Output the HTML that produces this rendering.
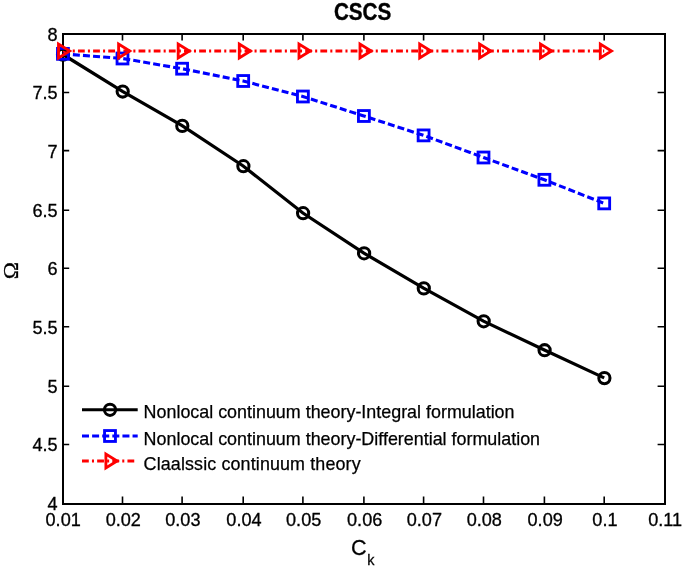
<!DOCTYPE html>
<html><head><meta charset="utf-8"><title>CSCS</title>
<style>
html,body{margin:0;padding:0;background:#fff;}
svg{display:block;will-change:transform;}
text{font-family:"Liberation Sans",sans-serif;fill:#000;}
.tk{font-size:17.5px;stroke:#000;stroke-width:0.3px;}
.lg{font-size:17.9px;stroke:#000;stroke-width:0.25px;}
</style></head><body>
<svg width="685" height="570" viewBox="0 0 685 570">
<rect x="0" y="0" width="685" height="570" fill="#fff"/>
<path d="M122.50 503.5V496.4M122.50 34.5V40.5M182.10 503.5V496.4M182.10 34.5V40.5M243.20 503.5V496.4M243.20 34.5V40.5M302.90 503.5V496.4M302.90 34.5V40.5M363.90 503.5V496.4M363.90 34.5V40.5M423.60 503.5V496.4M423.60 34.5V40.5M483.50 503.5V496.4M483.50 34.5V40.5M544.40 503.5V496.4M544.40 34.5V40.5M604.20 503.5V496.4M604.20 34.5V40.5M63.5 444.50H69.2M664.5 444.50H657.6M63.5 386.30H69.2M664.5 386.30H657.6M63.5 326.80H69.2M664.5 326.80H657.6M63.5 268.30H69.2M664.5 268.30H657.6M63.5 210.30H69.2M664.5 210.30H657.6M63.5 150.60H69.2M664.5 150.60H657.6M63.5 92.50H69.2M664.5 92.50H657.6" stroke="#000" stroke-width="1.6" fill="none"/>
<rect x="63" y="34" width="602" height="470" fill="none" stroke="#000" stroke-width="2"/>
<polyline points="62.90,54.50 122.50,91.30 182.10,125.70 243.20,166.00 302.90,213.00 363.90,253.10 423.60,288.20 483.50,321.10 544.40,350.00 604.20,377.90" fill="none" stroke="#000" stroke-width="3.25"/>
<polyline points="62.90,53.85 122.50,58.50 182.10,68.70 243.20,81.00 302.90,96.50 363.90,116.00 423.60,135.40 483.50,157.50 544.40,179.80 604.20,203.40" fill="none" stroke="#00f" stroke-width="3.1" stroke-dasharray="7 3.11" stroke-dashoffset="0.1"/>
<polyline points="62.40,51.00 122.50,51.00 182.10,51.00 243.20,51.00 302.90,51.00 363.90,51.00 423.60,51.00 483.50,51.00 544.40,51.00 604.20,51.00" fill="none" stroke="#f00" stroke-width="2.85" stroke-dasharray="6.8 3.15 2.05 3.15" stroke-dashoffset="-0.4"/>
<circle cx="63.00" cy="54.70" r="5.6" fill="none" stroke="#000" stroke-width="3.05"/>
<circle cx="122.70" cy="91.50" r="5.6" fill="none" stroke="#000" stroke-width="3.05"/>
<circle cx="182.30" cy="125.90" r="5.6" fill="none" stroke="#000" stroke-width="3.05"/>
<circle cx="243.40" cy="166.20" r="5.6" fill="none" stroke="#000" stroke-width="3.05"/>
<circle cx="303.10" cy="213.20" r="5.6" fill="none" stroke="#000" stroke-width="3.05"/>
<circle cx="364.10" cy="253.30" r="5.6" fill="none" stroke="#000" stroke-width="3.05"/>
<circle cx="423.80" cy="288.40" r="5.6" fill="none" stroke="#000" stroke-width="3.05"/>
<circle cx="483.70" cy="321.30" r="5.6" fill="none" stroke="#000" stroke-width="3.05"/>
<circle cx="544.60" cy="350.20" r="5.6" fill="none" stroke="#000" stroke-width="3.05"/>
<circle cx="604.40" cy="378.10" r="5.6" fill="none" stroke="#000" stroke-width="3.05"/>
<rect x="57.50" y="48.40" width="10.9" height="10.9" fill="none" stroke="#00f" stroke-width="2.85"/>
<rect x="117.05" y="53.05" width="10.9" height="10.9" fill="none" stroke="#00f" stroke-width="2.85"/>
<rect x="176.65" y="63.25" width="10.9" height="10.9" fill="none" stroke="#00f" stroke-width="2.85"/>
<rect x="237.75" y="75.55" width="10.9" height="10.9" fill="none" stroke="#00f" stroke-width="2.85"/>
<rect x="297.45" y="91.05" width="10.9" height="10.9" fill="none" stroke="#00f" stroke-width="2.85"/>
<rect x="358.45" y="110.55" width="10.9" height="10.9" fill="none" stroke="#00f" stroke-width="2.85"/>
<rect x="418.15" y="129.95" width="10.9" height="10.9" fill="none" stroke="#00f" stroke-width="2.85"/>
<rect x="478.05" y="152.05" width="10.9" height="10.9" fill="none" stroke="#00f" stroke-width="2.85"/>
<rect x="538.95" y="174.35" width="10.9" height="10.9" fill="none" stroke="#00f" stroke-width="2.85"/>
<rect x="598.75" y="197.95" width="10.9" height="10.9" fill="none" stroke="#00f" stroke-width="2.85"/>
<path d="M58.50 44.00L58.50 58.00L69.70 51.00Z" fill="none" stroke="#f00" stroke-width="2.85" stroke-linejoin="miter" stroke-miterlimit="10"/>
<path d="M118.60 44.00L118.60 58.00L129.80 51.00Z" fill="none" stroke="#f00" stroke-width="2.85" stroke-linejoin="miter" stroke-miterlimit="10"/>
<path d="M178.20 44.00L178.20 58.00L189.40 51.00Z" fill="none" stroke="#f00" stroke-width="2.85" stroke-linejoin="miter" stroke-miterlimit="10"/>
<path d="M239.30 44.00L239.30 58.00L250.50 51.00Z" fill="none" stroke="#f00" stroke-width="2.85" stroke-linejoin="miter" stroke-miterlimit="10"/>
<path d="M299.00 44.00L299.00 58.00L310.20 51.00Z" fill="none" stroke="#f00" stroke-width="2.85" stroke-linejoin="miter" stroke-miterlimit="10"/>
<path d="M360.00 44.00L360.00 58.00L371.20 51.00Z" fill="none" stroke="#f00" stroke-width="2.85" stroke-linejoin="miter" stroke-miterlimit="10"/>
<path d="M419.70 44.00L419.70 58.00L430.90 51.00Z" fill="none" stroke="#f00" stroke-width="2.85" stroke-linejoin="miter" stroke-miterlimit="10"/>
<path d="M479.60 44.00L479.60 58.00L490.80 51.00Z" fill="none" stroke="#f00" stroke-width="2.85" stroke-linejoin="miter" stroke-miterlimit="10"/>
<path d="M540.50 44.00L540.50 58.00L551.70 51.00Z" fill="none" stroke="#f00" stroke-width="2.85" stroke-linejoin="miter" stroke-miterlimit="10"/>
<path d="M600.30 44.00L600.30 58.00L611.50 51.00Z" fill="none" stroke="#f00" stroke-width="2.85" stroke-linejoin="miter" stroke-miterlimit="10"/>
<text class="tk" transform="translate(63.15,526.4) scale(1.035,1)" text-anchor="middle">0.01</text>
<text class="tk" transform="translate(123.25,526.4) scale(1.035,1)" text-anchor="middle">0.02</text>
<text class="tk" transform="translate(182.85,526.4) scale(1.035,1)" text-anchor="middle">0.03</text>
<text class="tk" transform="translate(243.95,526.4) scale(1.035,1)" text-anchor="middle">0.04</text>
<text class="tk" transform="translate(303.65,526.4) scale(1.035,1)" text-anchor="middle">0.05</text>
<text class="tk" transform="translate(364.65,526.4) scale(1.035,1)" text-anchor="middle">0.06</text>
<text class="tk" transform="translate(424.35,526.4) scale(1.035,1)" text-anchor="middle">0.07</text>
<text class="tk" transform="translate(484.25,526.4) scale(1.035,1)" text-anchor="middle">0.08</text>
<text class="tk" transform="translate(545.15,526.4) scale(1.035,1)" text-anchor="middle">0.09</text>
<text class="tk" transform="translate(604.95,526.4) scale(1.035,1)" text-anchor="middle">0.1</text>
<text class="tk" transform="translate(665.15,526.4) scale(1.035,1)" text-anchor="middle">0.11</text>
<text class="tk" transform="translate(57.7,510.20) scale(1.035,1)" text-anchor="end">4</text>
<text class="tk" transform="translate(57.7,451.40) scale(1.035,1)" text-anchor="end">4.5</text>
<text class="tk" transform="translate(57.7,393.20) scale(1.035,1)" text-anchor="end">5</text>
<text class="tk" transform="translate(57.7,333.70) scale(1.035,1)" text-anchor="end">5.5</text>
<text class="tk" transform="translate(57.7,275.20) scale(1.035,1)" text-anchor="end">6</text>
<text class="tk" transform="translate(57.7,217.20) scale(1.035,1)" text-anchor="end">6.5</text>
<text class="tk" transform="translate(57.7,157.50) scale(1.035,1)" text-anchor="end">7</text>
<text class="tk" transform="translate(57.7,99.40) scale(1.035,1)" text-anchor="end">7.5</text>
<text class="tk" transform="translate(57.7,40.50) scale(1.035,1)" text-anchor="end">8</text>
<text transform="translate(362.6,20.3) scale(0.985,1.095)" text-anchor="middle" font-size="21px" font-weight="bold" stroke="#000" stroke-width="0.35">CSCS</text>
<text transform="translate(351.1,555.0) scale(1.03,1.085)" font-size="21px" stroke="#000" stroke-width="0.25">C<tspan font-size="14px" dx="0.6" dy="9.2">k</tspan></text>
<text transform="translate(18.2,270.6) rotate(-90) scale(1.1,1)" text-anchor="middle" font-size="21px" stroke="#000" stroke-width="0.3" style="font-family:'Liberation Serif',serif">Ω</text>
<path d="M82 409.7H137.7" stroke="#000" stroke-width="2.85" fill="none"/>
<circle cx="110.00" cy="409.80" r="5.6" fill="none" stroke="#000" stroke-width="3.05"/>
<path d="M82 436.0H137.7" stroke="#00f" stroke-width="2.85" stroke-dasharray="7 3.11" fill="none"/>
<rect x="104.55" y="430.55" width="10.9" height="10.9" fill="none" stroke="#00f" stroke-width="2.85"/>
<path d="M82 461.0H135.2" stroke="#f00" stroke-width="2.85" stroke-dasharray="6.8 3.15 2.05 3.15" fill="none"/>
<path d="M105.90 454.00L105.90 468.00L117.10 461.00Z" fill="none" stroke="#f00" stroke-width="2.85" stroke-linejoin="miter" stroke-miterlimit="10"/>
<text class="lg" x="143.6" y="418.20" letter-spacing="0">Nonlocal continuum theory-Integral formulation</text>
<text class="lg" x="143.6" y="444.70" letter-spacing="0">Nonlocal continuum theory-Differential formulation</text>
<text class="lg" x="143.6" y="470.30" letter-spacing="0.13">Claalssic continuum theory</text>
</svg></body></html>
